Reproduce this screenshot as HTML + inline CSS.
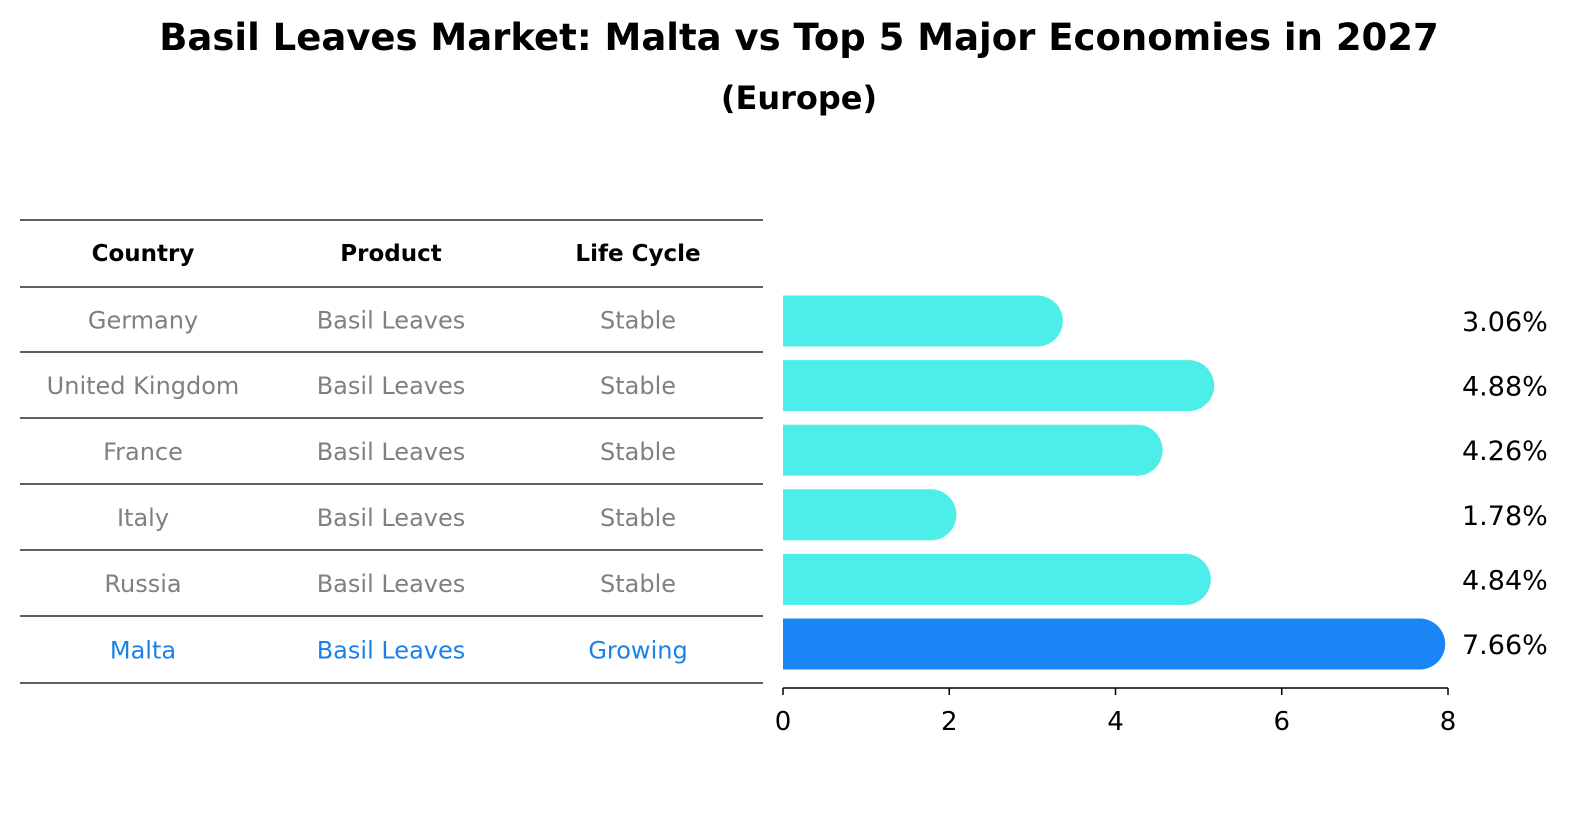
<!DOCTYPE html>
<html><head><meta charset="utf-8"><style>
body{margin:0;background:#fff;font-family:"DejaVu Sans","Liberation Sans",sans-serif}
</style></head><body>
<svg id="c" width="1586" height="823" xmlns="http://www.w3.org/2000/svg" style="font-family:'DejaVu Sans','Liberation Sans',sans-serif">
<text x="799" y="50" text-anchor="middle" font-size="37" font-weight="bold">Basil Leaves Market: Malta vs Top 5 Major Economies in 2027</text>
<text x="799" y="109" text-anchor="middle" font-size="32" font-weight="bold">(Europe)</text>
<g id="tbl"></g>
<g id="bars"></g>
<g id="axis"></g>
</svg>
<script>
const countries=["Germany","United Kingdom","France","Italy","Russia","Malta"];
const products=["Basil Leaves","Basil Leaves","Basil Leaves","Basil Leaves","Basil Leaves","Basil Leaves"];
const lifeCycles=["Stable","Stable","Stable","Stable","Stable","Growing"];
const values=[3.06,4.88,4.26,1.78,4.84,7.66];
const labels=["3.06%","4.88%","4.26%","1.78%","4.84%","7.66%"];
const ticks=[0,2,4,6,8];
const NS="http://www.w3.org/2000/svg";
function mk(tag,attrs,parent){const e=document.createElementNS(NS,tag);for(const k in attrs)e.setAttribute(k,attrs[k]);parent.appendChild(e);return e;}
const x=v=>783+v*(1448-783)/8;
const rowY=i=>321+i*64.6;
const tbl=document.getElementById('tbl');
const lines=[220,287,352,418,484,550,616,683];
lines.forEach(y=>{const l=mk('line',{x1:20,x2:763,y1:y,y2:y,stroke:'#000','stroke-width':1.2},tbl);

});
const cols=[143,391,638];
["Country","Product","Life Cycle"].forEach((h,j)=>{const t=mk('text',{x:cols[j],y:261,'text-anchor':'middle','font-size':23,'font-weight':'bold'},tbl);t.textContent=h;

});
countries.forEach((c,i)=>{const col=i===5?'#1a82e6':'#808080';const cy=(lines[i+1]+lines[i+2])/2+9;
[c,products[i],lifeCycles[i]].forEach((s,j)=>{const t=mk('text',{x:cols[j],y:cy,'text-anchor':'middle','font-size':24,fill:col},tbl);t.textContent=s;

});});
const bars=document.getElementById('bars');
values.forEach((v,i)=>{const cy=rowY(i),h=51,col=i===5?'#1a86f5':'#4deeea';
const r=mk('rect',{x:x(0),y:cy-h/2,width:x(v)-x(0),height:h,fill:col},bars);


const cap=mk('circle',{cx:x(v),cy:cy,r:h/2,fill:col},bars);


const t=mk('text',{x:1462,y:cy+10,'font-size':27},bars);t.textContent=labels[i];

});
const ax=document.getElementById('axis');
const al=mk('line',{x1:x(0),x2:x(8),y1:688,y2:688,stroke:'#000','stroke-width':1.5},ax);


ticks.forEach(tv=>{const tl=mk('line',{x1:x(tv),x2:x(tv),y1:688,y2:695,stroke:'#000','stroke-width':1.5},ax);


const t=mk('text',{x:x(tv),y:730,'text-anchor':'middle','font-size':26},ax);t.textContent=tv;

});
</script>
</body></html>
